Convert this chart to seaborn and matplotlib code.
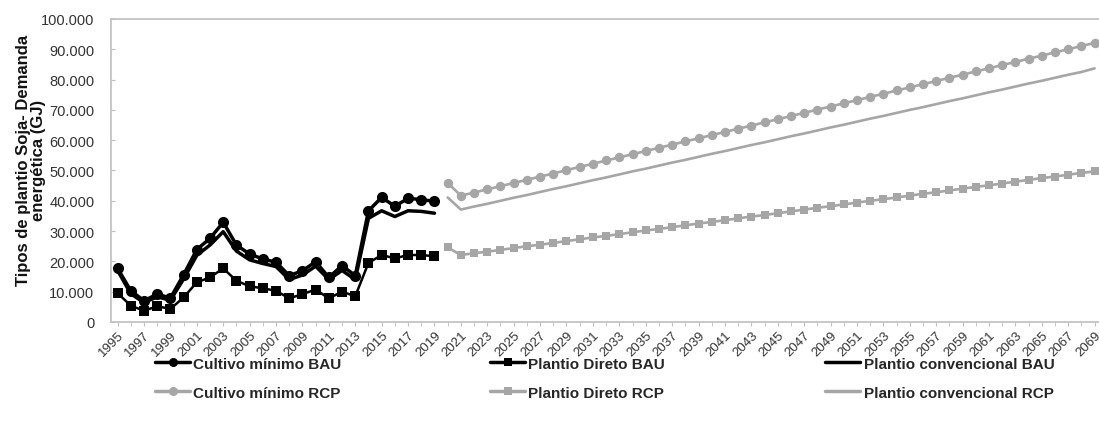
import numpy as np
import seaborn as sns
import pandas as pd
import matplotlib.pyplot as plt
from matplotlib.lines import Line2D
from matplotlib.ticker import FuncFormatter

# historical (BAU) years 1995-2019, projection (RCP) years 2020-2069
anos_bau = list(range(1995, 2020))
anos_rcp = list(range(2020, 2070))

cultivo_minimo_bau = [17.7, 10.3, 7.0, 9.2, 7.9, 15.6, 23.9, 27.6, 32.9, 25.4,
                      22.4, 20.8, 19.7, 15.3, 16.9, 19.9, 14.7, 18.6, 15.3, 36.7,
                      41.1, 38.2, 40.8, 40.4, 39.8]
plantio_direto_bau = [9.5, 5.4, 3.7, 5.2, 4.3, 8.1, 13.1, 14.7, 17.7, 13.6,
                      11.8, 11.1, 10.3, 7.8, 9.2, 10.7, 7.8, 10.0, 8.5, 19.5,
                      22.1, 21.0, 22.1, 22.1, 21.7]
plantio_convencional_bau = [17.0, 9.3, 6.4, 8.3, 7.2, 14.2, 22.0, 25.4, 29.8, 23.4,
                            20.5, 19.3, 18.3, 14.0, 15.5, 18.4, 14.0, 17.0, 14.0, 34.2,
                            36.7, 34.8, 36.7, 36.5, 35.9]

cultivo_minimo_rcp = [45.9, 41.7, 42.7, 43.8, 44.8, 45.9, 46.9, 48.0, 49.0, 50.1,
                      51.2, 52.2, 53.3, 54.3, 55.4, 56.4, 57.5, 58.5, 59.6, 60.6,
                      61.7, 62.7, 63.8, 64.8, 65.9, 66.9, 68.0, 69.0, 70.1, 71.1,
                      72.2, 73.2, 74.3, 75.3, 76.4, 77.4, 78.5, 79.5, 80.6, 81.6,
                      82.7, 83.7, 84.8, 85.8, 86.9, 87.9, 89.0, 90.0, 91.1, 92.1]
plantio_direto_rcp = [24.6, 22.1, 22.7, 23.2, 23.8, 24.4, 25.0, 25.5, 26.1, 26.7,
                      27.3, 27.9, 28.4, 29.0, 29.6, 30.2, 30.7, 31.3, 31.9, 32.5,
                      33.0, 33.6, 34.2, 34.8, 35.3, 35.9, 36.5, 37.1, 37.7, 38.2,
                      38.8, 39.4, 40.0, 40.5, 41.1, 41.7, 42.3, 42.8, 43.4, 44.0,
                      44.6, 45.1, 45.7, 46.3, 46.9, 47.5, 48.0, 48.6, 49.2, 49.7]
plantio_convencional_rcp = [41.1, 37.1, 38.1, 39.0, 40.0, 41.0, 41.9, 42.9, 43.9, 44.8,
                            45.8, 46.8, 47.7, 48.7, 49.7, 50.6, 51.6, 52.6, 53.5, 54.5,
                            55.5, 56.4, 57.4, 58.4, 59.3, 60.3, 61.3, 62.2, 63.2, 64.2,
                            65.1, 66.1, 67.1, 68.0, 69.0, 70.0, 70.9, 71.9, 72.9, 73.8,
                            74.8, 75.8, 76.7, 77.7, 78.7, 79.6, 80.6, 81.6, 82.5, 83.7]

PRETO = '#000000'
CINZA = '#a6a6a6'
EIXO = '#bfbfbf'
TEXTO = '#333333'

sns.set_style('white')
plt.rcParams['font.family'] = ['Liberation Sans', 'DejaVu Sans']

fig = plt.figure(figsize=(10.99, 4.27), dpi=100)
ax = fig.add_axes([0.101, 0.2436, 0.901, 0.7096])

bau = pd.DataFrame({'ano': anos_bau,
                    'cm': np.array(cultivo_minimo_bau) * 1000,
                    'pd': np.array(plantio_direto_bau) * 1000,
                    'pc': np.array(plantio_convencional_bau) * 1000})
rcp = pd.DataFrame({'ano': anos_rcp,
                    'cm': np.array(cultivo_minimo_rcp) * 1000,
                    'pd': np.array(plantio_direto_rcp) * 1000,
                    'pc': np.array(plantio_convencional_rcp) * 1000})

# BAU
sns.lineplot(data=bau, x='ano', y='pc', color=PRETO, linewidth=2.5, ax=ax)
sns.lineplot(data=bau, x='ano', y='cm', color=PRETO, linewidth=2.5,
             marker='o', markersize=8, markeredgewidth=0, ax=ax)
sns.lineplot(data=bau, x='ano', y='pd', color=PRETO, linewidth=1.8,
             marker='s', markersize=7, markeredgewidth=0, ax=ax)
# RCP
sns.lineplot(data=rcp, x='ano', y='pc', color=CINZA, linewidth=1.9, ax=ax)
sns.lineplot(data=rcp, x='ano', y='cm', color=CINZA, linewidth=1.9,
             marker='o', markersize=6.8, markeredgewidth=0, ax=ax)
sns.lineplot(data=rcp, x='ano', y='pd', color=CINZA, linewidth=1.9,
             marker='s', markersize=6.2, markeredgewidth=0, ax=ax)

ax.set_xlim(1994.5, 2069.5)
ax.set_ylim(0, 100000)
ax.set_yticks(range(0, 100001, 10000))
ax.yaxis.set_major_formatter(FuncFormatter(lambda v, p: f'{int(v):,}'.replace(',', '.')))
ax.set_xticks(range(1995, 2070, 2))
ax.set_xticks(range(1995, 2070), minor=True)
ax.set_xticklabels([str(a) for a in range(1995, 2070, 2)], rotation=45,
                   ha='right', rotation_mode='anchor', fontsize=9.5, color=TEXTO)
ax.tick_params(axis='y', labelsize=10.5, labelcolor=TEXTO, direction='in',
               length=3, color=EIXO, pad=12, left=True)
ax.tick_params(axis='x', which='both', direction='out', length=3, color=EIXO,
               bottom=True, pad=2)

for lado in ['left', 'bottom', 'top']:
    ax.spines[lado].set_color(EIXO)
    ax.spines[lado].set_linewidth(1.2)
ax.spines['right'].set_visible(False)

ax.set_xlabel('')
ax.set_ylabel('Tipos de plantio Soja- Demanda\nenergética (GJ)', fontsize=12,
              fontweight='bold', color='#111111', linespacing=1.0)
ax.yaxis.set_label_coords(-0.066, 0.535)

# one legend per column, like the three columns of the original
colunas = [
    (0.141, [Line2D([], [], color=PRETO, lw=2.5, marker='o', ms=6.5, mew=0),
             Line2D([], [], color=CINZA, lw=2.5, marker='o', ms=6.5, mew=0)],
     ['Cultivo mínimo BAU', 'Cultivo mínimo RCP']),
    (0.446, [Line2D([], [], color=PRETO, lw=2.5, marker='s', ms=6, mew=0),
             Line2D([], [], color=CINZA, lw=2.5, marker='s', ms=6, mew=0)],
     ['Plantio Direto BAU', 'Plantio Direto RCP']),
    (0.751, [Line2D([], [], color=PRETO, lw=2.5),
             Line2D([], [], color=CINZA, lw=2.5)],
     ['Plantio convencional BAU', 'Plantio convencional RCP']),
]
for x0, hs, ls in colunas:
    fig.legend(hs, ls, loc='center left', bbox_to_anchor=(x0, 0.112),
               frameon=False, prop={'weight': 'bold', 'size': 11},
               handlelength=2.3, handletextpad=0.2, labelspacing=1.0,
               borderpad=0, borderaxespad=0)

plt.savefig('out.png', dpi=100)
